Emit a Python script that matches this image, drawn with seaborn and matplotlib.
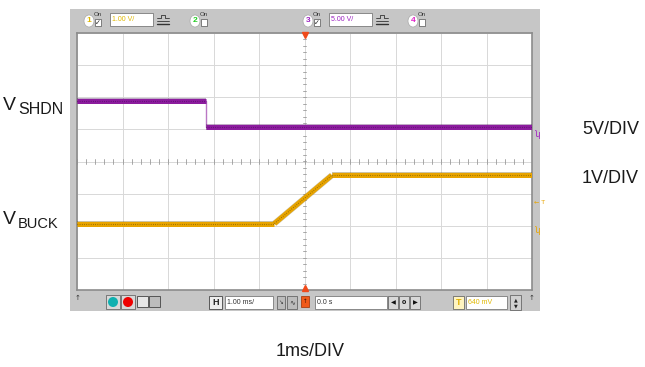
import numpy as np
import pandas as pd
import matplotlib
matplotlib.use("Agg")
import matplotlib.pyplot as plt
from matplotlib.patches import Rectangle, Ellipse
import seaborn as sns

# ---- traces (time in ms, levels in volts) ----
shdn_t = [-5.0, -2.16, -2.16, 5.0]
shdn_v = [4.0, 4.0, 0.0, 0.0]
buck_t = [-5.0, -0.66, 0.60, 5.0]
buck_v = [0.0, 0.0, 1.5, 1.5]

# channel settings: volts per division and ground position (divisions from centre)
shdn_scale, shdn_offset = 5.0, 1.07
buck_scale, buck_offset = 1.0, -1.93
trigger_level = 0.64  # volts on the buck channel

ch_labels = ["1.00 V/", "5.00 V/"]
time_label = "1.00 ms/"
pos_label = "0.0 s"
trig_label = "640 mV"

SHDN_COL = "#8c1c9e"
BUCK_COL = "#e8a400"
W, H = 645, 367

sns.set_theme(style="white")
plt.rcParams["font.family"] = ["Liberation Sans", "DejaVu Sans"]

fig = plt.figure(figsize=(W / 100, H / 100), dpi=100)
fig.patch.set_facecolor("white")


def fx(px):
    return px / W


def fy(py):
    return 1 - py / H


def rect(x0, y0, x1, y1, zorder=1, **kw):
    fig.patches.append(Rectangle((fx(x0), fy(y1)), fx(x1) - fx(x0), fy(y0) - fy(y1),
                                 transform=fig.transFigure, zorder=zorder, **kw))


def ftext(x, y, s, **kw):
    kw.setdefault("ha", "left")
    kw.setdefault("va", "center")
    fig.text(fx(x), fy(y), s, zorder=3, **kw)


# scope frame
rect(70, 9, 540, 311, zorder=-5, facecolor="#c6c6c6", edgecolor="none")

# graticule axes
ax = fig.add_axes([fx(77), fy(290), fx(532) - fx(77), fy(33) - fy(290)])
ax.set_zorder(2)
ax.set_facecolor("white")
ax.set_xlim(-5, 5)
ax.set_ylim(-4, 4)
ax.set_xticks(np.arange(-5, 6, 1))
ax.set_yticks(np.arange(-4, 5, 1))
ax.grid(True, color="#d8d8d8", lw=0.7)
ax.tick_params(length=0, labelbottom=False, labelleft=False)
for s in ax.spines.values():
    s.set_color("#8c8c8c")
    s.set_linewidth(1.2)

# centre-line minor graticule marks
for t in np.arange(-5, 5.01, 0.2):
    ax.plot([t, t], [-0.07, 0.07], color="#9a9a9a", lw=0.6, zorder=1)
for v in np.arange(-4, 4.01, 0.2):
    ax.plot([-0.04, 0.04], [v, v], color="#9a9a9a", lw=0.6, zorder=1)


def draw_trace(t, v, scale, offset, color, dark):
    df = pd.DataFrame({"t": t, "div": [offset + x / scale for x in v]})
    # thin edge through every point (fast transitions)
    sns.lineplot(data=df, x="t", y="div", ax=ax, color=color, lw=1.0,
                 alpha=0.6, sort=False, estimator=None, zorder=3)
    # thick band where the trace moves in time
    for i in range(len(df) - 1):
        if df.t[i + 1] > df.t[i]:
            seg = df.iloc[i:i + 2]
            sns.lineplot(data=seg, x="t", y="div", ax=ax, color=dark, lw=4.3,
                         sort=False, estimator=None, zorder=4, alpha=0.35,
                         solid_capstyle="butt")
            sns.lineplot(data=seg, x="t", y="div", ax=ax, color=color, lw=3.6,
                         sort=False, estimator=None, zorder=4,
                         solid_capstyle="butt")
            sns.lineplot(data=seg, x="t", y="div", ax=ax, color=dark, lw=0.8,
                         sort=False, estimator=None, zorder=5,
                         linestyle=(0, (0.6, 1.4)), alpha=0.8)


draw_trace(shdn_t, shdn_v, shdn_scale, shdn_offset, SHDN_COL, "#4a0a5a")
draw_trace(buck_t, buck_v, buck_scale, buck_offset, BUCK_COL, "#6a5200")
ax.set_xlabel("")
ax.set_ylabel("")

# trigger position markers
ax.plot([0], [3.93], marker="v", color="#f04a1a", ms=4.5, clip_on=False, zorder=6)
ax.plot([0], [-3.93], marker="^", color="#f04a1a", ms=4.5, clip_on=False, zorder=6)

# right-hand level markers
ax.text(1.006, (shdn_offset + 4) / 8 - 0.012, "ʮ", transform=ax.transAxes,
        color="#a020c0", fontsize=6, va="top", ha="left", family="DejaVu Sans")
ax.text(1.004, (buck_offset + trigger_level / buck_scale + 4) / 8, "← T", transform=ax.transAxes,
        color=BUCK_COL, fontsize=4.5, va="center", ha="left", family="DejaVu Sans")
ax.text(1.006, (buck_offset + 4) / 8 - 0.008, "ʮ", transform=ax.transAxes,
        color=BUCK_COL, fontsize=6, va="top", ha="left", family="DejaVu Sans")


# ---- top control bar ----
def channel(cx, num, color, checked, label=None, box_col=None):
    fig.patches.append(Ellipse((fx(cx), fy(21)), fx(10), 12 / H, transform=fig.transFigure,
                               facecolor="white", edgecolor="#a8a8a8", lw=0.5, zorder=1))
    ftext(cx, 21, num, color=color, fontsize=6, fontweight="bold", ha="center")
    ftext(cx + 5, 15, "On", color="#333333", fontsize=4.5)
    rect(cx + 6, 19, cx + 12, 26, facecolor="white", edgecolor="#555555", lw=0.5)
    if checked:
        ftext(cx + 9, 22.5, "✓", color="#222222", fontsize=5, ha="center",
              family="DejaVu Sans")
    if label is not None:
        rect(cx + 21, 13, cx + 64, 26, facecolor="white", edgecolor="#7a7a7a", lw=0.6)
        ftext(cx + 23, 19.5, label, color=box_col, fontsize=5)
        # coupling button
        x0 = cx + 68
        fig.lines.append(plt.Line2D([fx(x0), fx(x0 + 4), fx(x0 + 4), fx(x0 + 8), fx(x0 + 8), fx(x0 + 12)],
                                    [fy(18), fy(18), fy(15), fy(15), fy(18), fy(18)],
                                    transform=fig.transFigure, color="#333333", lw=0.6))
        fig.lines.append(plt.Line2D([fx(x0), fx(x0 + 12)], [fy(21), fy(21)],
                                    transform=fig.transFigure, color="#333333", lw=0.6))
        fig.lines.append(plt.Line2D([fx(x0), fx(x0 + 12)], [fy(24), fy(24)],
                                    transform=fig.transFigure, color="#333333", lw=1.0))


channel(89, "1", "#e0b800", True, ch_labels[0], "#e0b800")
channel(195, "2", "#22cc22", False)
channel(308, "3", "#9a20c0", True, ch_labels[1], "#9a20c0")
channel(413, "4", "#e020c8", False)

# ---- bottom control bar ----
ftext(78, 298, "↑", fontsize=5, color="#333333", ha="center", family="DejaVu Sans")
ftext(532, 298, "↑", fontsize=5, color="#333333", ha="center", family="DejaVu Sans")
rect(106, 295, 120, 309, facecolor="#d8d8d8", edgecolor="#555555", lw=0.5)
fig.patches.append(Ellipse((fx(113), fy(302)), fx(10), 10 / H, transform=fig.transFigure,
                           facecolor="#10b0b0", edgecolor="none", zorder=2))
rect(121, 295, 135, 309, facecolor="#d8d8d8", edgecolor="#555555", lw=0.5)
fig.patches.append(Ellipse((fx(128), fy(302)), fx(10), 10 / H, transform=fig.transFigure,
                           facecolor="#ee0000", edgecolor="none", zorder=2))
rect(137, 296, 148, 307, facecolor="#e6e6e6", edgecolor="#444444", lw=0.6)
rect(149, 296, 160, 307, facecolor="#bcbcbc", edgecolor="#444444", lw=0.6)

rect(209, 296, 222, 309, facecolor="#eeeeee", edgecolor="#444444", lw=0.6)
ftext(215.5, 302.5, "H", fontsize=6.5, fontweight="bold", ha="center", color="#222222")
rect(225, 296, 273, 309, facecolor="white", edgecolor="#7a7a7a", lw=0.6)
ftext(227, 302.5, time_label, fontsize=5, color="#333333")
rect(277, 296, 285, 309, facecolor="#bcbcbc", edgecolor="#555555", lw=0.5)
ftext(281, 302.5, "↘", fontsize=4, ha="center", color="#333333", family="DejaVu Sans")
rect(287, 296, 297, 309, facecolor="#bcbcbc", edgecolor="#555555", lw=0.5)
ftext(292, 302.5, "∿", fontsize=5, ha="center", color="#333333", family="DejaVu Sans")
rect(301, 296, 309, 307, facecolor="#f05a1a", edgecolor="#a03000", lw=0.5)
ftext(305, 301.5, "↑", fontsize=4, ha="center", color="#331100", family="DejaVu Sans")
rect(315, 296, 387, 309, facecolor="white", edgecolor="#7a7a7a", lw=0.6)
ftext(317, 302.5, pos_label, fontsize=5, color="#333333")
for x0, sym in [(388, "◀"), (399, "0"), (410, "▶")]:
    rect(x0, 296, x0 + 10, 309, facecolor="#d8d8d8", edgecolor="#555555", lw=0.5)
    ftext(x0 + 5, 302.5, sym, fontsize=4.5, ha="center", color="#111111",
          family="DejaVu Sans", fontweight="bold")

rect(453, 296, 464, 309, facecolor="#fff4c0", edgecolor="#555555", lw=0.5)
ftext(458.5, 302.5, "T", fontsize=6.5, fontweight="bold", ha="center", color="#e0b000")
rect(466, 296, 507, 309, facecolor="white", edgecolor="#7a7a7a", lw=0.6)
ftext(468, 302.5, trig_label, fontsize=5, color="#e0b800")
rect(510, 295, 521, 310, facecolor="#d0d0d0", edgecolor="#555555", lw=0.5)
ftext(515.5, 299.5, "▲", fontsize=3.5, ha="center", color="#222222", family="DejaVu Sans")
ftext(515.5, 305.5, "▼", fontsize=3.5, ha="center", color="#222222", family="DejaVu Sans")

# ---- annotations around the display ----
LBL = dict(color="#1a1a1a", family="Liberation Sans")
ftext(3, 105, "V", fontsize=14, **LBL)
ftext(18, 109.5, "SHDN", fontsize=11.5, **LBL)
ftext(3, 220, "V", fontsize=14, **LBL)
ftext(18, 224.5, "BUCK", fontsize=10.5, **LBL)
ftext(582, 129, "5V/DIV", fontsize=13, **LBL)
ftext(582, 178, "1V/DIV", fontsize=13, **LBL)
ftext(310, 352, "1ms/DIV", fontsize=13, ha="center", **LBL)

fig.savefig("out.png", dpi=100)
